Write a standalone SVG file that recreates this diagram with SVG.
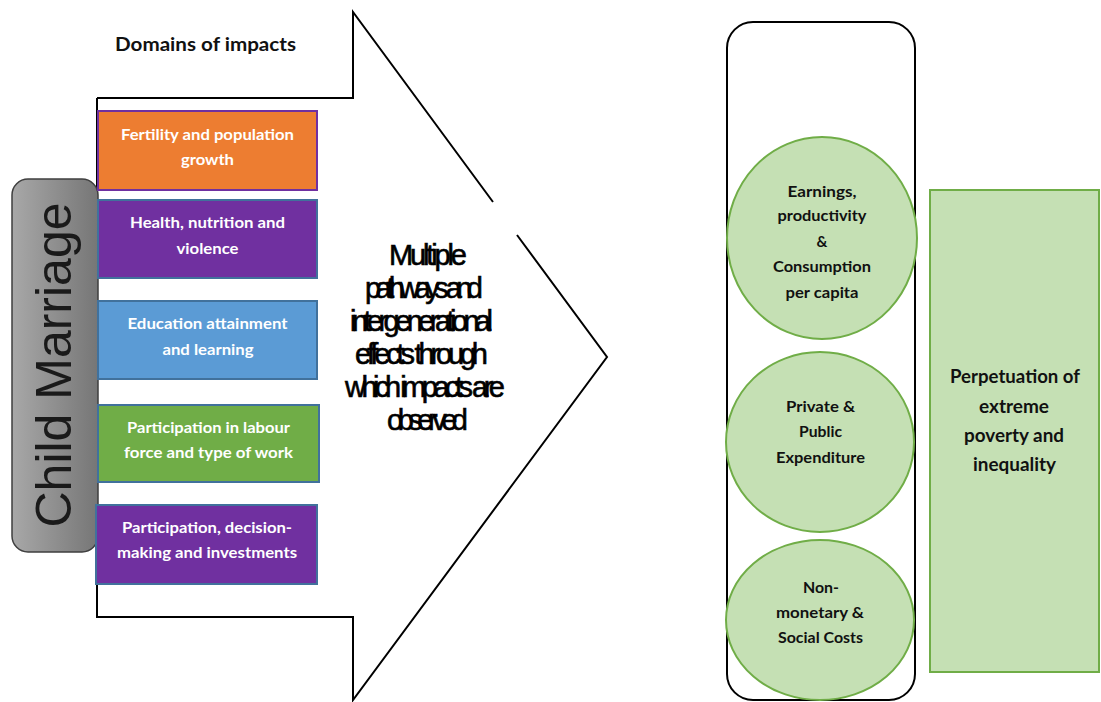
<svg xmlns="http://www.w3.org/2000/svg" width="1101" height="702" viewBox="0 0 1101 702">
<defs>
<linearGradient id="gray" x1="0" y1="0" x2="1" y2="0">
<stop offset="0" stop-color="#a8a8a8"/>
<stop offset="1" stop-color="#767676"/>
</linearGradient>
<style>
.box{stroke:#41719C;stroke-width:2}
.wt{font-family:Lato,"Open Sans","Liberation Sans",sans-serif;font-weight:bold;font-size:15px;fill:#ffffff;text-anchor:middle}
.bt{font-family:Lato,"Open Sans","Liberation Sans",sans-serif;font-weight:bold;font-size:15px;fill:#111111;text-anchor:middle}
.big{font-family:Lato,"Open Sans","Liberation Sans",sans-serif;font-weight:bold;font-size:18px;fill:#111111;text-anchor:middle}
.mid{font-family:"Liberation Sans",Arial,sans-serif;font-size:29px;fill:#000000;stroke:#000000;stroke-width:0.6;text-anchor:middle}
.circ{fill:#C5E0B4;stroke:#70AD47;stroke-width:2}
</style>
</defs>
<rect width="1101" height="702" fill="#ffffff"/>

<g id="connectors">
<path d="M97,98 L353,98 L353,12 L493,202 M517,235 L607,357 L353,700 L353,617 L97,617 L97,98" fill="none" stroke="#000" stroke-width="2" stroke-linejoin="miter"/>
</g>

<g id="domains-title">
<text x="205.5" y="51" class="big" font-size="19" textLength="181" lengthAdjust="spacingAndGlyphs">Domains of impacts</text>
</g>

<g id="child-marriage">
<rect x="12" y="179" width="86" height="373" rx="16" ry="16" fill="url(#gray)" stroke="#3f3f3f" stroke-width="1.5"/>
<text transform="translate(71,365) rotate(-90)" font-family="'Liberation Sans',Arial,sans-serif" font-size="50" fill="#1a1a1a" text-anchor="middle" textLength="325" lengthAdjust="spacingAndGlyphs">Child Marriage</text>
</g>

<g id="fertility">
<rect x="98" y="111" width="219" height="79" fill="#ED7D31" stroke="#7030A0" stroke-width="2"/>
<text x="207.5" y="140" class="wt" textLength="173" lengthAdjust="spacingAndGlyphs">Fertility and population</text>
<text x="207.5" y="165" class="wt" textLength="53" lengthAdjust="spacingAndGlyphs">growth</text>
</g>

<g id="health">
<rect x="98" y="200" width="219" height="78" fill="#7030A0" class="box"/>
<text x="207.5" y="228" class="wt" textLength="155" lengthAdjust="spacingAndGlyphs">Health, nutrition and</text>
<text x="207.5" y="254" class="wt" textLength="62" lengthAdjust="spacingAndGlyphs">violence</text>
</g>

<g id="education">
<rect x="98" y="301" width="219" height="78" fill="#5B9BD5" class="box"/>
<text x="207.5" y="329" class="wt" textLength="160" lengthAdjust="spacingAndGlyphs">Education attainment</text>
<text x="208" y="355" class="wt" textLength="91" lengthAdjust="spacingAndGlyphs">and learning</text>
</g>

<g id="labour">
<rect x="98" y="405" width="221" height="77" fill="#70AD47" class="box"/>
<text x="208.5" y="433" class="wt" textLength="163" lengthAdjust="spacingAndGlyphs">Participation in labour</text>
<text x="208.5" y="458" class="wt" textLength="169" lengthAdjust="spacingAndGlyphs">force and type of work</text>
</g>

<g id="decision">
<rect x="96" y="505" width="221" height="79" fill="#7030A0" class="box"/>
<text x="207" y="533" class="wt" textLength="170" lengthAdjust="spacingAndGlyphs">Participation, decision-</text>
<text x="207" y="558" class="wt" textLength="180" lengthAdjust="spacingAndGlyphs">making and investments</text>
</g>

<g id="pathways">
<text x="428" y="265" class="mid" textLength="78" lengthAdjust="spacing">Multiple</text>
<text x="424" y="298" class="mid" textLength="118" lengthAdjust="spacing">pathways and</text>
<text x="421.5" y="331" class="mid" textLength="143" lengthAdjust="spacing">intergenerational</text>
<text x="421.5" y="364" class="mid" textLength="133" lengthAdjust="spacing">effects through</text>
<text x="425" y="397" class="mid" textLength="160" lengthAdjust="spacing">which impacts are</text>
<text x="427.5" y="430" class="mid" textLength="81" lengthAdjust="spacing">observed</text>
</g>

<g id="costs-frame">
<rect x="727" y="22" width="188" height="678" rx="26" ry="26" fill="none" stroke="#000" stroke-width="2"/>
</g>

<g id="earnings">
<ellipse cx="822" cy="238" rx="95" ry="101" class="circ"/>
<text x="822" y="197" class="bt" textLength="69" lengthAdjust="spacingAndGlyphs">Earnings,</text>
<text x="822" y="221" class="bt" textLength="89" lengthAdjust="spacingAndGlyphs">productivity</text>
<text x="822" y="247" class="bt">&amp;</text>
<text x="822" y="272" class="bt" textLength="98" lengthAdjust="spacingAndGlyphs">Consumption</text>
<text x="822" y="298" class="bt" textLength="73" lengthAdjust="spacingAndGlyphs">per capita</text>
</g>

<g id="expenditure">
<ellipse cx="820" cy="442" rx="94" ry="90" class="circ"/>
<text x="820.5" y="412" class="bt" textLength="69" lengthAdjust="spacingAndGlyphs">Private &amp;</text>
<text x="820.5" y="437" class="bt" textLength="43" lengthAdjust="spacingAndGlyphs">Public</text>
<text x="820.5" y="463" class="bt" textLength="89" lengthAdjust="spacingAndGlyphs">Expenditure</text>
</g>

<g id="social">
<ellipse cx="820" cy="620" rx="94" ry="80" class="circ"/>
<text x="821" y="593" class="bt" textLength="36" lengthAdjust="spacingAndGlyphs">Non-</text>
<text x="820" y="618" class="bt" textLength="88" lengthAdjust="spacingAndGlyphs">monetary &amp;</text>
<text x="820.5" y="643" class="bt" textLength="85" lengthAdjust="spacingAndGlyphs">Social Costs</text>
</g>

<g id="poverty">
<rect x="930" y="190" width="169" height="482" fill="#C5E0B4" stroke="#70AD47" stroke-width="2"/>
<text x="1015" y="383" class="big" textLength="130" lengthAdjust="spacingAndGlyphs">Perpetuation of</text>
<text x="1014" y="413" class="big" textLength="70" lengthAdjust="spacingAndGlyphs">extreme</text>
<text x="1014" y="442" class="big" textLength="100" lengthAdjust="spacingAndGlyphs">poverty and</text>
<text x="1014.5" y="471" class="big" textLength="83" lengthAdjust="spacingAndGlyphs">inequality</text>
</g>
</svg>
